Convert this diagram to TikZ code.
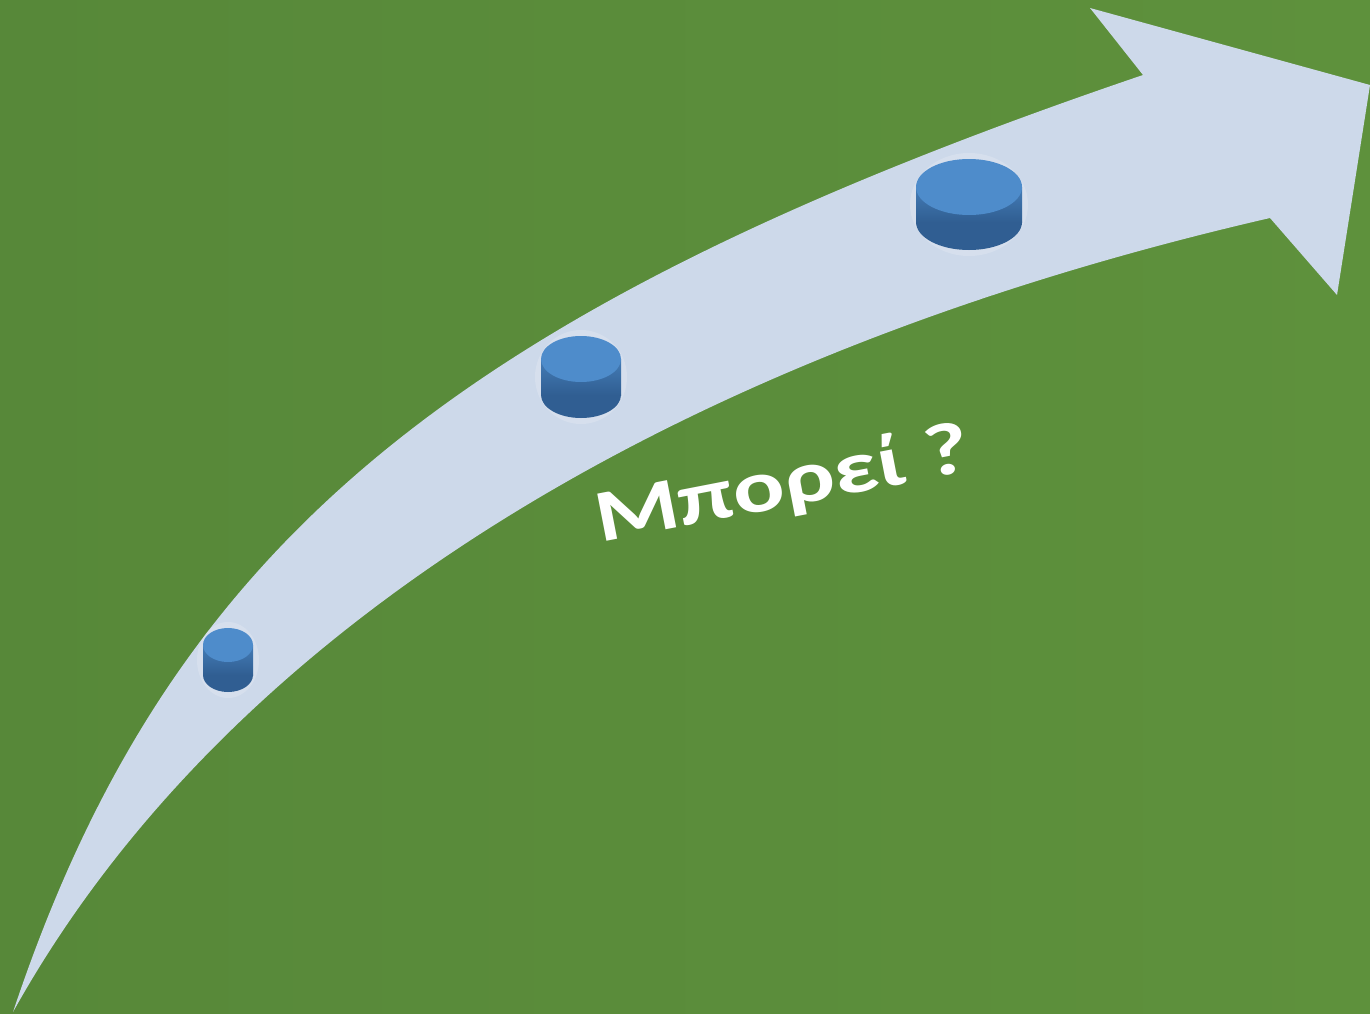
\documentclass[tikz,border=0pt]{standalone}
\usepackage{fontspec}
\setmainfont{Carlito}
\usepackage{tikz}
\definecolor{fieldgreen}{RGB}{87,136,57}
\definecolor{fieldgreenlt}{RGB}{94,145,60}
\definecolor{arrowfill}{RGB}{205,217,234}
\definecolor{pucktop}{RGB}{78,140,203}
\definecolor{puckside}{RGB}{68,124,182}
\definecolor{puckdark}{RGB}{48,94,146}
% centre x, top centre y, x radius, y radius, height
\newcommand{\puck}[5]{%
	\fill[white, opacity=.18] (#1,#2+#5/2) ellipse[x radius=#3+6, y radius=#4+#5/2+6];
	\fill[puckdark] (#1,#2+#5) ellipse[x radius=#3, y radius=#4];
	\shade[top color=puckside, bottom color=puckdark] (#1-#3,#2) rectangle (#1+#3,#2+#5);
	\fill[pucktop] (#1,#2) ellipse[x radius=#3, y radius=#4];
}

\begin{document}
\begin{tikzpicture}[x=1pt, y=-1pt,
	word/.style={anchor=base west, inner sep=0pt, rotate=11, xscale=1.3,
		font=\bfseries\fontsize{74}{80}\selectfont, text=white}]
	\useasboundingbox (0,0) rectangle (1370,1014);
	\shade[left color=fieldgreen, right color=fieldgreenlt] (0,0) rectangle (1370,1014);
	
	\coordinate (tail) at (13,1012);
	\coordinate (notchup) at (1143,75);
	\coordinate (barbup) at (1090,8);
	\coordinate (tip) at (1370,85);
	\coordinate (barbdown) at (1337,295);
	\coordinate (notchdown) at (1270,218);
	
	\fill[arrowfill] (tail) .. controls (169,545) and (452,310) .. (notchup)
		-- (barbup) -- (tip) -- (barbdown) -- (notchdown)
		.. controls (662,358) and (222,636) .. (tail) -- cycle;
	
	\puck{228}{645}{25}{17}{30}
	\puck{581}{359}{40}{23}{36}
	\puck{969}{187}{53}{28}{35}
	
	\node[word] (ask) at (600,543) {Μπορεί ?};
\end{tikzpicture}
\end{document}
